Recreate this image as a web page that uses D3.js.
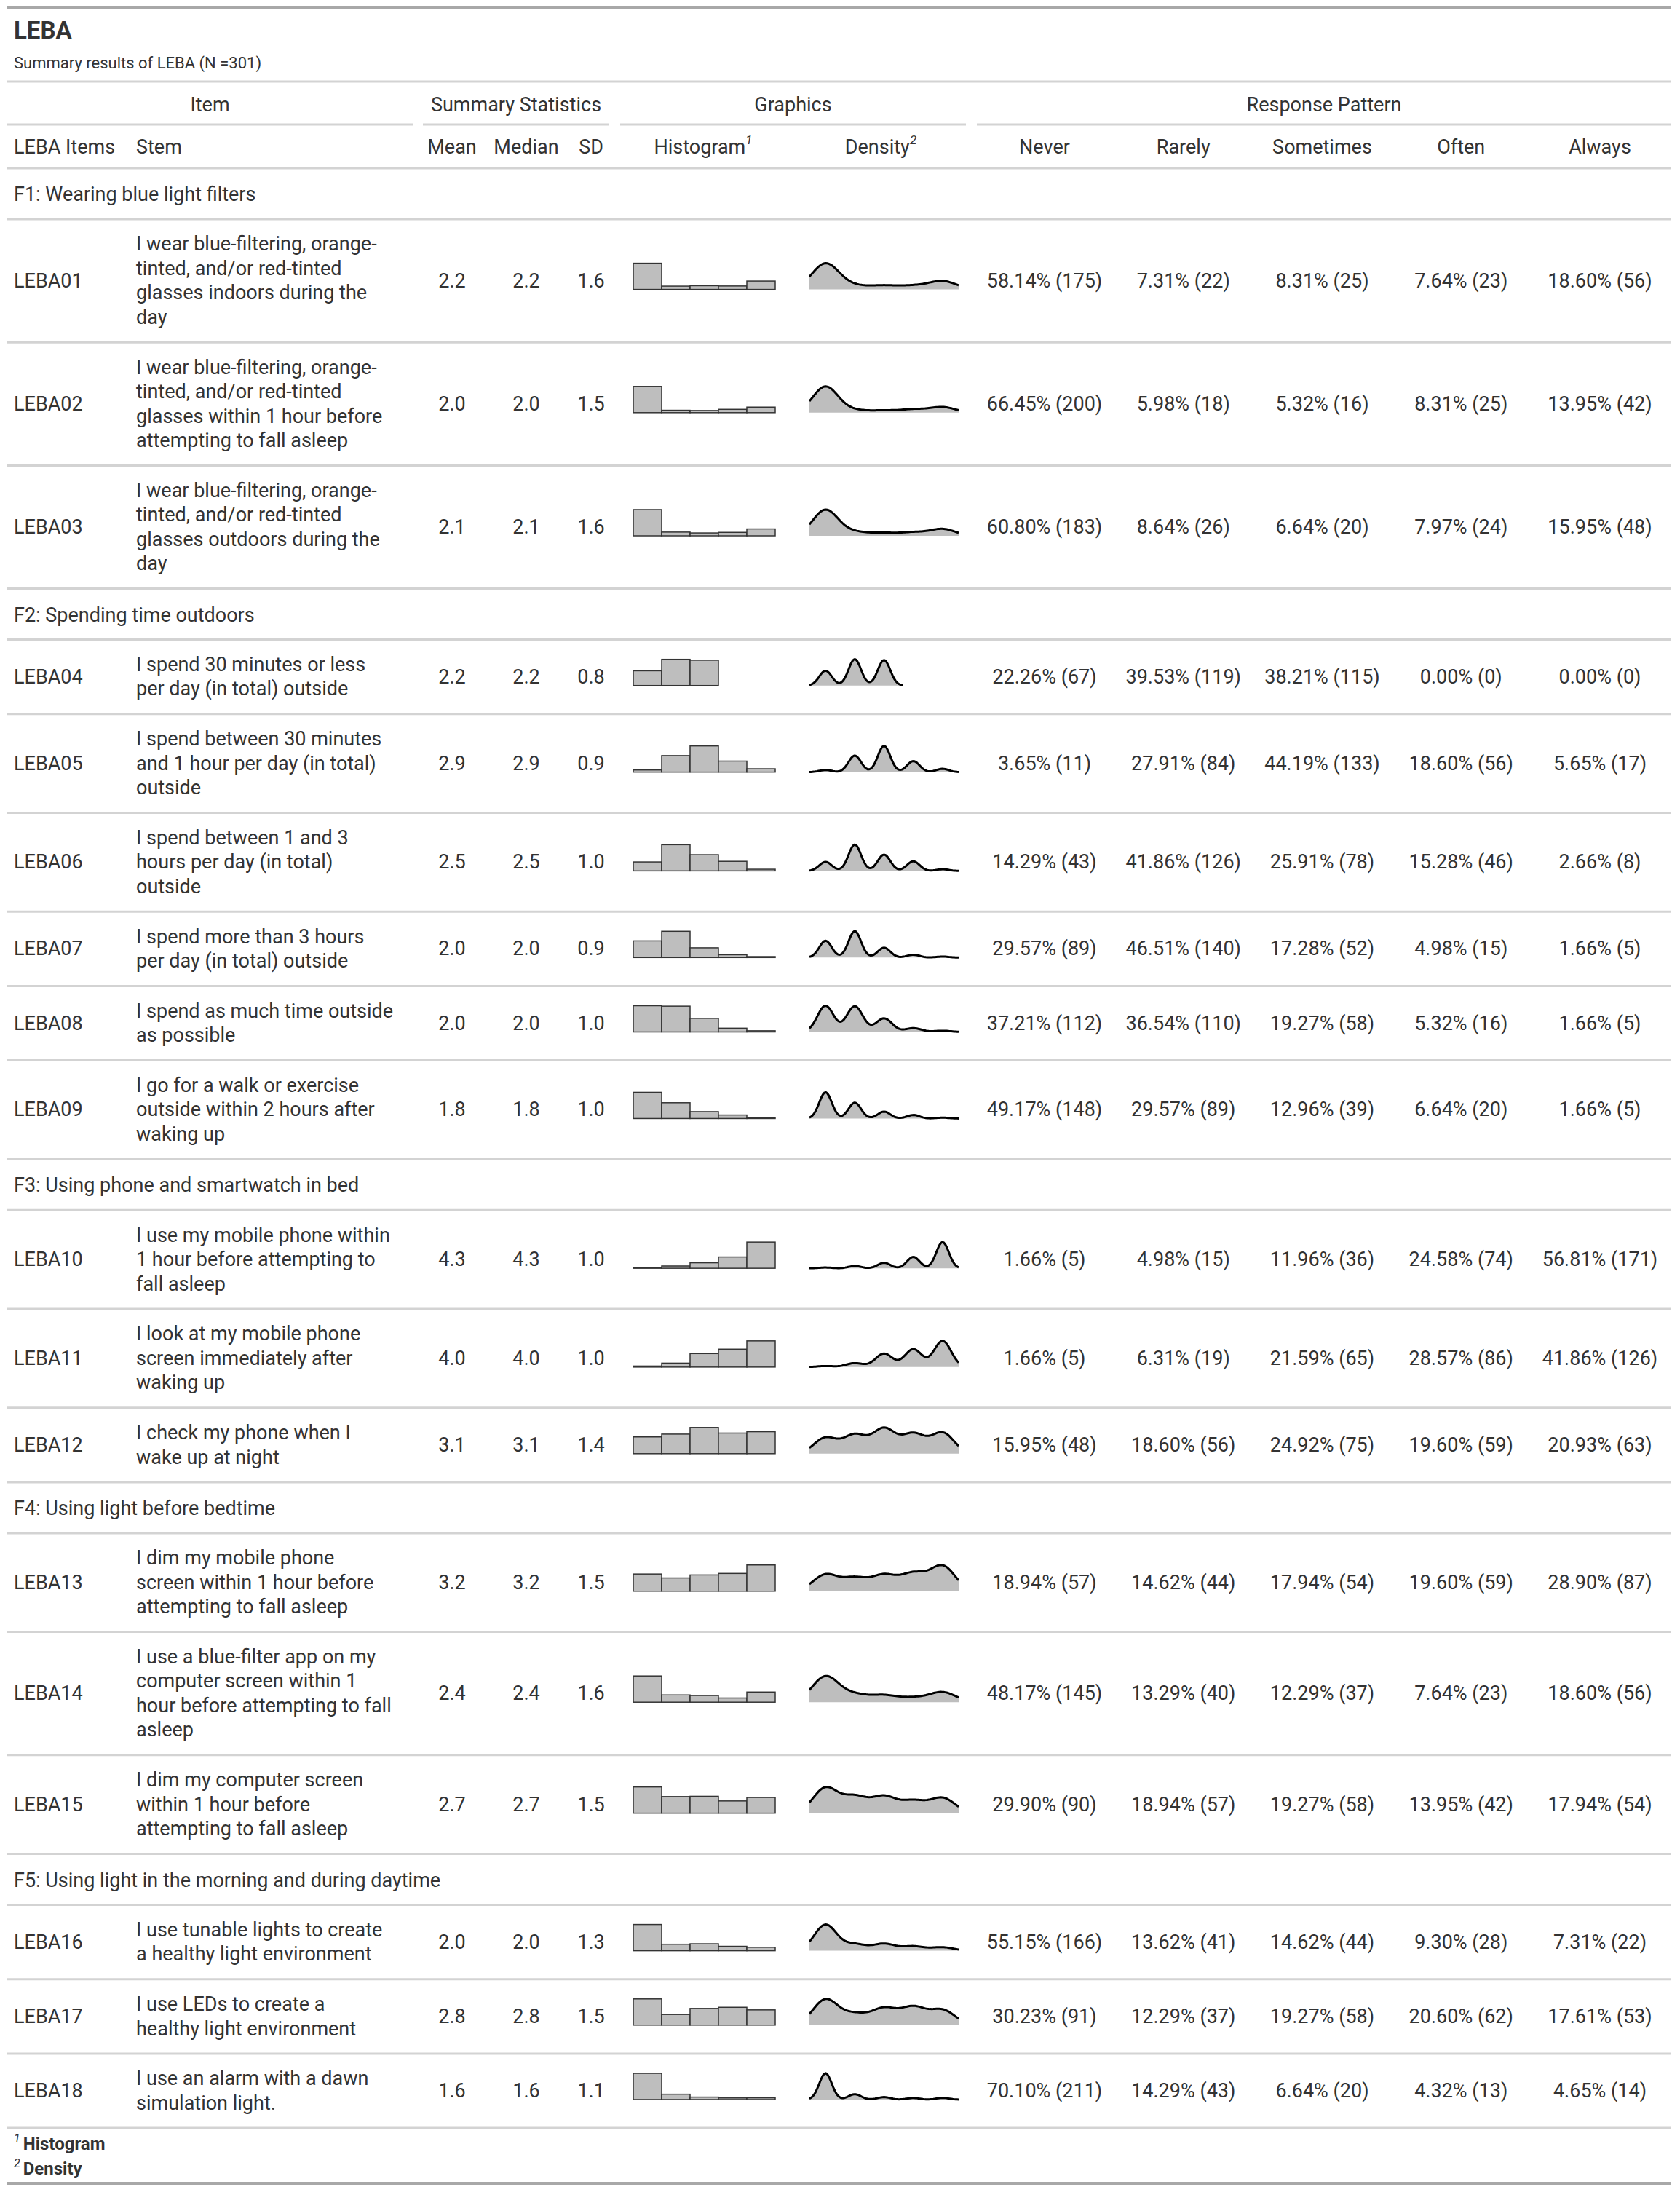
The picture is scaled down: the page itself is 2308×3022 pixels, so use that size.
<!DOCTYPE html>
<html><head><meta charset="utf-8">
<script src="https://cdn.jsdelivr.net/npm/d3@7"></script>
<style>body{margin:0;background:#fff}</style>
</head><body>
<script>
// data
var N = 301;
var responseLevels = ["Never", "Rarely", "Sometimes", "Often", "Always"];
var groups = [
  {label: "F1: Wearing blue light filters", items: ["LEBA01", "LEBA02", "LEBA03"]},
  {label: "F2: Spending time outdoors", items: ["LEBA04", "LEBA05", "LEBA06", "LEBA07", "LEBA08", "LEBA09"]},
  {label: "F3: Using phone and smartwatch in bed", items: ["LEBA10", "LEBA11", "LEBA12"]},
  {label: "F4: Using light before bedtime", items: ["LEBA13", "LEBA14", "LEBA15"]},
  {label: "F5: Using light in the morning and during daytime", items: ["LEBA16", "LEBA17", "LEBA18"]}
];
var stems = {
  LEBA01: ["I wear blue-filtering, orange-", "tinted, and/or red-tinted", "glasses indoors during the", "day"],
  LEBA02: ["I wear blue-filtering, orange-", "tinted, and/or red-tinted", "glasses within 1 hour before", "attempting to fall asleep"],
  LEBA03: ["I wear blue-filtering, orange-", "tinted, and/or red-tinted", "glasses outdoors during the", "day"],
  LEBA04: ["I spend 30 minutes or less", "per day (in total) outside"],
  LEBA05: ["I spend between 30 minutes", "and 1 hour per day (in total)", "outside"],
  LEBA06: ["I spend between 1 and 3", "hours per day (in total)", "outside"],
  LEBA07: ["I spend more than 3 hours", "per day (in total) outside"],
  LEBA08: ["I spend as much time outside", "as possible"],
  LEBA09: ["I go for a walk or exercise", "outside within 2 hours after", "waking up"],
  LEBA10: ["I use my mobile phone within", "1 hour before attempting to", "fall asleep"],
  LEBA11: ["I look at my mobile phone", "screen immediately after", "waking up"],
  LEBA12: ["I check my phone when I", "wake up at night"],
  LEBA13: ["I dim my mobile phone", "screen within 1 hour before", "attempting to fall asleep"],
  LEBA14: ["I use a blue-filter app on my", "computer screen within 1", "hour before attempting to fall", "asleep"],
  LEBA15: ["I dim my computer screen", "within 1 hour before", "attempting to fall asleep"],
  LEBA16: ["I use tunable lights to create", "a healthy light environment"],
  LEBA17: ["I use LEDs to create a", "healthy light environment"],
  LEBA18: ["I use an alarm with a dawn", "simulation light."]
};
var means =   {LEBA01:"2.2",LEBA02:"2.0",LEBA03:"2.1",LEBA04:"2.2",LEBA05:"2.9",LEBA06:"2.5",LEBA07:"2.0",LEBA08:"2.0",LEBA09:"1.8",LEBA10:"4.3",LEBA11:"4.0",LEBA12:"3.1",LEBA13:"3.2",LEBA14:"2.4",LEBA15:"2.7",LEBA16:"2.0",LEBA17:"2.8",LEBA18:"1.6"};
var medians = means;
var sds =     {LEBA01:"1.6",LEBA02:"1.5",LEBA03:"1.6",LEBA04:"0.8",LEBA05:"0.9",LEBA06:"1.0",LEBA07:"0.9",LEBA08:"1.0",LEBA09:"1.0",LEBA10:"1.0",LEBA11:"1.0",LEBA12:"1.4",LEBA13:"1.5",LEBA14:"1.6",LEBA15:"1.5",LEBA16:"1.3",LEBA17:"1.5",LEBA18:"1.1"};
var counts = {
  LEBA01: [175, 22, 25, 23, 56], LEBA02: [200, 18, 16, 25, 42], LEBA03: [183, 26, 20, 24, 48],
  LEBA04: [67, 119, 115, 0, 0],  LEBA05: [11, 84, 133, 56, 17], LEBA06: [43, 126, 78, 46, 8],
  LEBA07: [89, 140, 52, 15, 5],  LEBA08: [112, 110, 58, 16, 5], LEBA09: [148, 89, 39, 20, 5],
  LEBA10: [5, 15, 36, 74, 171],  LEBA11: [5, 19, 65, 86, 126],  LEBA12: [48, 56, 75, 59, 63],
  LEBA13: [57, 44, 54, 59, 87],  LEBA14: [145, 40, 37, 23, 56], LEBA15: [90, 57, 58, 42, 54],
  LEBA16: [166, 41, 44, 28, 22], LEBA17: [91, 37, 58, 62, 53],  LEBA18: [211, 43, 20, 13, 14]
};

// layout
var W = 2308, H = 3022, L = 10, R = 2296;
var font = "Roboto, 'Noto Sans', sans-serif", txt = "#333", rule = "#d3d3d3";
var fs = 27, lineH = 33.5, pad = 17.6, groupH = 70;
var colX = {item: 19, stem: 187, mean: 621, median: 723, sd: 812, hist: 966, dens: 1210};
var respX = d3.scalePoint().domain(responseLevels).range([1435, 2198]);
var histX = d3.scaleLinear().domain([0.5, 5.5]).range([870, 1065]);
var densX = d3.scaleLinear().domain([0.45, 5.55]).range([1112, 1317]);

var svg = d3.select("body").append("svg").attr("width", W).attr("height", H)
  .style("font-family", font).attr("fill", txt);

function hline(y, w, c) {
  svg.append("line").attr("x1", L).attr("x2", R).attr("y1", y).attr("y2", y)
    .attr("stroke", c || rule).attr("stroke-width", w || 3);
}
function text(x, y, s, anchor, size, weight) {
  return svg.append("text").attr("x", x).attr("y", y).attr("text-anchor", anchor || "start")
    .attr("dominant-baseline", "central").attr("font-size", size || fs)
    .attr("font-weight", weight || "normal").text(s);
}

hline(10, 4, "#a8a8a8");
text(19, 41, "LEBA", "start", 33, "bold");
text(19, 86, "Summary results of LEBA (N =301)", "start", 22);
hline(112, 3);

// spanners
var spanners = [
  {label: "Item", x1: 10, x2: 567}, {label: "Summary Statistics", x1: 581, x2: 837},
  {label: "Graphics", x1: 852, x2: 1327}, {label: "Response Pattern", x1: 1342, x2: 2296}
];
spanners.forEach(function(s) {
  text((s.x1 + s.x2) / 2, 144, s.label, "middle");
  svg.append("line").attr("x1", s.x1).attr("x2", s.x2).attr("y1", 171).attr("y2", 171)
    .attr("stroke", rule).attr("stroke-width", 3);
});
text(colX.item, 202, "LEBA Items");
text(colX.stem, 202, "Stem");
text(colX.mean, 202, "Mean", "middle");
text(colX.median, 202, "Median", "middle");
text(colX.sd, 202, "SD", "middle");
var th = text(colX.hist, 202, "Histogram", "middle");
th.append("tspan").attr("font-size", 17).attr("font-style", "italic").attr("dy", -10).text("1");
var td = text(colX.dens, 202, "Density", "middle");
td.append("tspan").attr("font-size", 17).attr("font-style", "italic").attr("dy", -10).text("2");
responseLevels.forEach(function(r) { text(respX(r), 202, r, "middle"); });
hline(231, 3);

// density estimate from the counts (gaussian kernel, nrd0 bandwidth)
function kde(c) {
  var vals = [];
  c.forEach(function(n, i) { for (var k = 0; k < n; k++) vals.push(i + 1); });
  var sd = d3.deviation(vals), iqr = d3.quantile(vals, 0.75) - d3.quantile(vals, 0.25);
  var lo = Math.min(sd, iqr / 1.34 || sd);
  var bw = 0.9 * lo * Math.pow(vals.length, -0.2);
  var x0 = Math.max(d3.min(vals) - 3 * bw, densX.domain()[0]);
  var x1 = Math.min(d3.max(vals) + 3 * bw, densX.domain()[1]);
  var pts = d3.range(0, 101).map(function(j) {
    var x = x0 + (x1 - x0) * j / 100, s = 0;
    c.forEach(function(n, i) { var u = (x - (i + 1)) / bw; s += n * Math.exp(-0.5 * u * u); });
    return [x, s];
  });
  return pts;
}

var y = 231;
groups.forEach(function(g) {
  text(colX.item, y + groupH / 2 + 1, g.label);
  y += groupH;
  hline(y, 3);
  g.items.forEach(function(id) {
    var lines = stems[id];
    var h = lines.length * lineH + 2 * pad, cy = y + h / 2;
    text(colX.item, cy, id);
    lines.forEach(function(s, i) {
      text(colX.stem, cy + (i - (lines.length - 1) / 2) * lineH, s);
    });
    text(colX.mean, cy, means[id], "middle");
    text(colX.median, cy, medians[id], "middle");
    text(colX.sd, cy, sds[id], "middle");

    var c = counts[id], base = cy + 12;
    var hy = d3.scaleLinear().domain([0, d3.max(c)]).range([base, base - 36]);
    svg.append("g").selectAll("rect").data(c.map(function(n, i) { return {n: n, v: i + 1}; })
      .filter(function(d) { return d.n > 0; }))
      .enter().append("rect")
      .attr("x", function(d) { return histX(d.v - 0.5); })
      .attr("width", histX(1.5) - histX(0.5))
      .attr("y", function(d) { return hy(d.n); })
      .attr("height", function(d) { return base - hy(d.n); })
      .attr("fill", "#bebebe").attr("stroke", "#333").attr("stroke-width", 1.5);

    var pts = kde(c);
    var dy = d3.scaleLinear().domain([0, d3.max(pts, function(p) { return p[1]; })]).range([base, base - 36]);
    svg.append("path").datum(pts)
      .attr("d", d3.area().x(function(p) { return densX(p[0]); }).y0(base).y1(function(p) { return dy(p[1]); }))
      .attr("fill", "#bebebe");
    svg.append("path").datum(pts)
      .attr("d", d3.line().x(function(p) { return densX(p[0]); }).y(function(p) { return dy(p[1]); }))
      .attr("fill", "none").attr("stroke", "#000").attr("stroke-width", 3);

    responseLevels.forEach(function(r, i) {
      text(respX(r), cy, (c[i] / N * 100).toFixed(2) + "% (" + c[i] + ")", "middle");
    });
    y += h;
    hline(y, 3);
  });
});

// footnotes
var f1 = text(19, y + 22, "", "start", 24, "bold");
f1.append("tspan").attr("font-size", 16).attr("font-style", "italic").attr("font-weight", "normal").attr("dy", -8).text("1");
f1.append("tspan").attr("dy", 8).attr("dx", 4).text("Histogram");
var f2 = text(19, y + 56, "", "start", 24, "bold");
f2.append("tspan").attr("font-size", 16).attr("font-style", "italic").attr("font-weight", "normal").attr("dy", -8).text("2");
f2.append("tspan").attr("dy", 8).attr("dx", 4).text("Density");
hline(y + 76, 4, "#a8a8a8");
</script>
</body></html>
